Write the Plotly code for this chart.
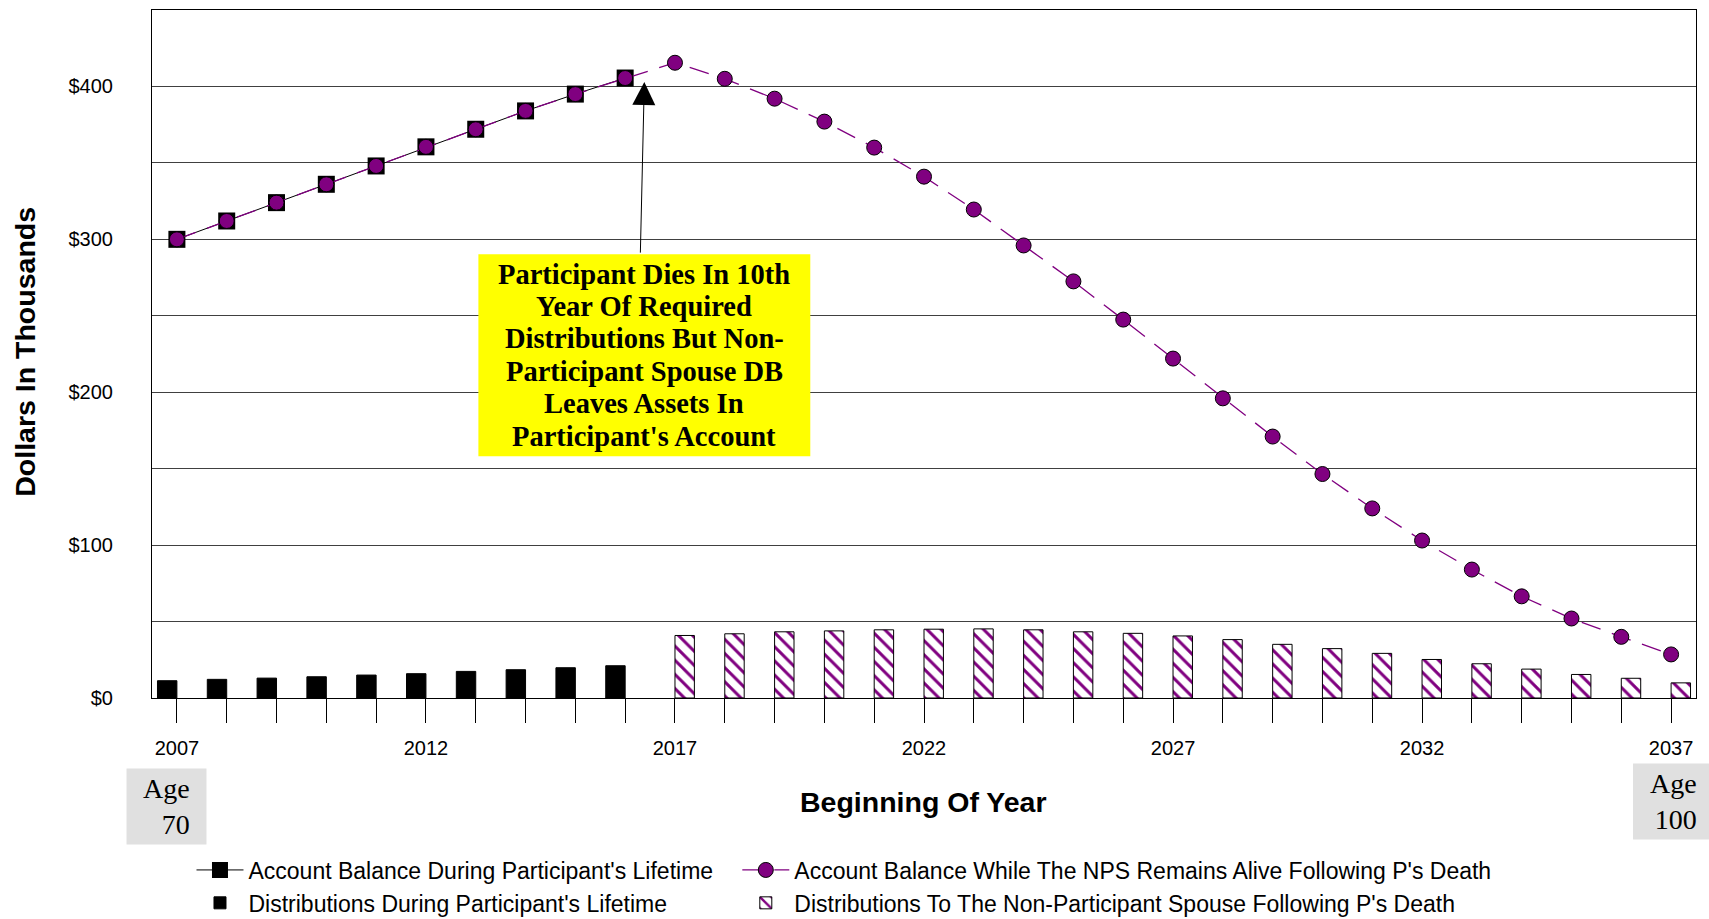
import plotly.graph_objects as go

# ---- data ----
years_life = [2007, 2008, 2009, 2010, 2011, 2012, 2013, 2014, 2015, 2016]
years_all = [2007, 2008, 2009, 2010, 2011, 2012, 2013, 2014, 2015, 2016, 2017,
             2018, 2019, 2020, 2021, 2022, 2023, 2024, 2025, 2026, 2027, 2028,
             2029, 2030, 2031, 2032, 2033, 2034, 2035, 2036, 2037]
years_nps = [2017, 2018, 2019, 2020, 2021, 2022, 2023, 2024, 2025, 2026, 2027,
             2028, 2029, 2030, 2031, 2032, 2033, 2034, 2035, 2036, 2037]

balance_life = [300, 312, 324, 336, 348, 360.5, 372, 384, 395, 405.5]
balance_nps = [300, 312, 324, 336, 348, 360.5, 372, 384, 395, 405.5,
               415.5, 405, 392, 377, 360, 341, 319.5, 296, 272.5, 247.5, 222,
               196, 171, 146.5, 124, 103, 84, 66.5, 52, 40, 28.5]
dist_life = [11.3, 12.2, 13.0, 13.9, 15.0, 15.9, 17.4, 18.5, 19.8, 21.1]
dist_nps = [40.9, 42.0, 43.3, 43.9, 44.6, 45.0, 45.2, 44.6, 43.3, 42.3, 40.6,
            38.2, 35.1, 32.3, 29.2, 25.2, 22.4, 18.9, 15.4, 12.9, 9.9]

y_tickvals = [0, 50, 100, 150, 200, 250, 300, 350, 400, 450]
y_ticktext = ["$0", "", "$100", "", "$200", "", "$300", "", "$400", ""]
x_label_years = [2007, 2012, 2017, 2022, 2027, 2032, 2037]

names = ["Account Balance During Participant's Lifetime",
         "Account Balance While The NPS Remains Alive Following P's Death",
         "Distributions During Participant's Lifetime",
         "Distributions To The Non-Participant Spouse Following P's Death"]

note_lines = ["Participant Dies In 10th", "Year Of Required",
              "Distributions But Non-", "Participant Spouse DB",
              "Leaves Assets In", "Participant's Account"]

PURPLE = "#800080"
SANS = "Liberation Sans, Arial, sans-serif"
SERIF = "Liberation Serif, Times New Roman, serif"

fig = go.Figure()
fig.add_trace(go.Scatter(
    x=years_life, y=balance_life, name=names[0], mode="lines+markers",
    legend="legend",
    line=dict(color="black", width=1),
    marker=dict(symbol="square", size=17, color="black")))
fig.add_trace(go.Scatter(
    x=years_all, y=balance_nps, name=names[1], mode="lines+markers",
    legend="legend2",
    line=dict(color=PURPLE, width=1.3, dash="20px,12px"),
    marker=dict(symbol="circle", size=15, color=PURPLE,
                line=dict(color="black", width=1))))
fig.add_trace(go.Bar(
    x=years_life, y=dist_life, name=names[2], legend="legend",
    width=0.39, offset=-0.39,
    marker=dict(color="black", line=dict(color="black", width=1))))
fig.add_trace(go.Bar(
    x=years_nps, y=dist_nps, name=names[3], legend="legend2",
    width=0.39, offset=0,
    marker=dict(color="white", line=dict(color="black", width=1),
                pattern=dict(shape="\\", fgcolor=PURPLE, bgcolor="white",
                             fgopacity=1, size=10, solidity=0.3))))

# plot-area geometry helpers
PLOT_L, PLOT_R, PLOT_T, PLOT_B = 151.5, 1696, 10, 697.6
W = 1709
H = 919
XMIN, XMAX, YMAX = 2006.5, 2037.5, 450


def px2x(px):
    return XMIN + (px - PLOT_L) / (PLOT_R - PLOT_L) * (XMAX - XMIN)


def px2y(py):
    return (PLOT_B - py) / (PLOT_B - PLOT_T) * YMAX


def xp(px):
    return (px - PLOT_L) / (PLOT_R - PLOT_L)


def yp(py):
    return (PLOT_B - py) / (PLOT_B - PLOT_T)


# yellow note box
fig.add_shape(type="rect", xref="x", yref="y",
              x0=px2x(478), x1=px2x(810), y0=px2y(456), y1=px2y(254),
              fillcolor="#ffff00", line=dict(width=0), layer="above")
cx = px2x(644)
for i, t in enumerate(note_lines):
    fig.add_annotation(x=cx, y=px2y(274 + 32.4 * i), xref="x", yref="y",
                       xanchor="center", yanchor="middle",
                       text="<b>%s</b>" % t, showarrow=False,
                       font=dict(family=SERIF, size=28.5, color="black"))
# arrow
fig.add_annotation(x=px2x(644), y=px2y(82), ax=px2x(640), ay=px2y(254),
                   xref="x", yref="y", axref="x", ayref="y", text="",
                   showarrow=True, arrowhead=2, arrowsize=4.6, arrowwidth=1,
                   arrowcolor="black", standoff=0, startstandoff=0)

# axis titles
fig.add_annotation(xref="paper", yref="paper", x=xp(25), y=yp(352),
                   xanchor="center", yanchor="middle",
                   text="<b>Dollars In Thousands</b>",
                   textangle=-90, showarrow=False,
                   font=dict(family=SANS, size=28.5, color="black"))
fig.add_annotation(xref="paper", yref="paper", x=xp(923), y=yp(802),
                   xanchor="center", yanchor="middle",
                   text="<b>Beginning Of Year</b>",
                   showarrow=False, font=dict(family=SANS, size=28.5, color="black"))

# age boxes (grey rectangles + text)
fig.add_shape(type="rect", xref="paper", yref="paper",
              x0=xp(126), x1=xp(206), y0=yp(844), y1=yp(768),
              fillcolor="#e0e0e0", line=dict(width=0), layer="below")
fig.add_shape(type="rect", xref="paper", yref="paper",
              x0=xp(1633), x1=xp(1709), y0=yp(839), y1=yp(763),
              fillcolor="#e0e0e0", line=dict(width=0), layer="below")
fig.add_annotation(xref="paper", yref="paper", x=xp(166), y=yp(806),
                   xanchor="center", yanchor="middle",
                   text="Age<br>70", align="right", showarrow=False,
                   font=dict(family=SERIF, size=28, color="black"))
fig.add_annotation(xref="paper", yref="paper", x=xp(1673), y=yp(801),
                   xanchor="center", yanchor="middle",
                   text="Age<br>100", align="right", showarrow=False,
                   font=dict(family=SERIF, size=28, color="black"))

legend_common = dict(orientation="v", xanchor="left", yanchor="top",
                     font=dict(family=SANS, size=23, color="black"),
                     itemwidth=47, bgcolor="rgba(0,0,0,0)",
                     tracegroupgap=0, borderwidth=0)

fig.update_layout(
    width=W, height=H,
    margin=dict(l=PLOT_L, r=W - PLOT_R, t=PLOT_T, b=H - PLOT_B,
                autoexpand=False),
    paper_bgcolor="white", plot_bgcolor="white",
    barmode="overlay",
    showlegend=True,
    legend=dict(x=xp(191), y=yp(848), **legend_common),
    legend2=dict(x=xp(737), y=yp(848), **legend_common),
    font=dict(family=SANS, color="black"),
)
fig.update_xaxes(range=[XMIN, XMAX], tickvals=years_all,
                 ticktext=[str(y) if y in x_label_years else "" for y in years_all],
                 ticks="outside", ticklen=24, tickwidth=1, tickcolor="black",
                 ticklabelstandoff=8,
                 showgrid=False, zeroline=False, automargin=False,
                 showline=True, linecolor="black", linewidth=1, mirror=True,
                 tickfont=dict(family=SANS, size=20, color="black"))
fig.update_yaxes(range=[0, YMAX], tickvals=y_tickvals, ticktext=y_ticktext,
                 ticks="outside", ticklen=34, tickcolor="rgba(0,0,0,0)",
                 showgrid=True, gridcolor="#404040", gridwidth=1,
                 zeroline=False, automargin=False,
                 showline=True, linecolor="black", linewidth=1, mirror=True,
                 tickfont=dict(family=SANS, size=20, color="black"))

fig.write_html("out.html", config={"displayModeBar": False},
               post_script="document.body.style.margin='0';"
                           "document.body.style.overflow='hidden';")
